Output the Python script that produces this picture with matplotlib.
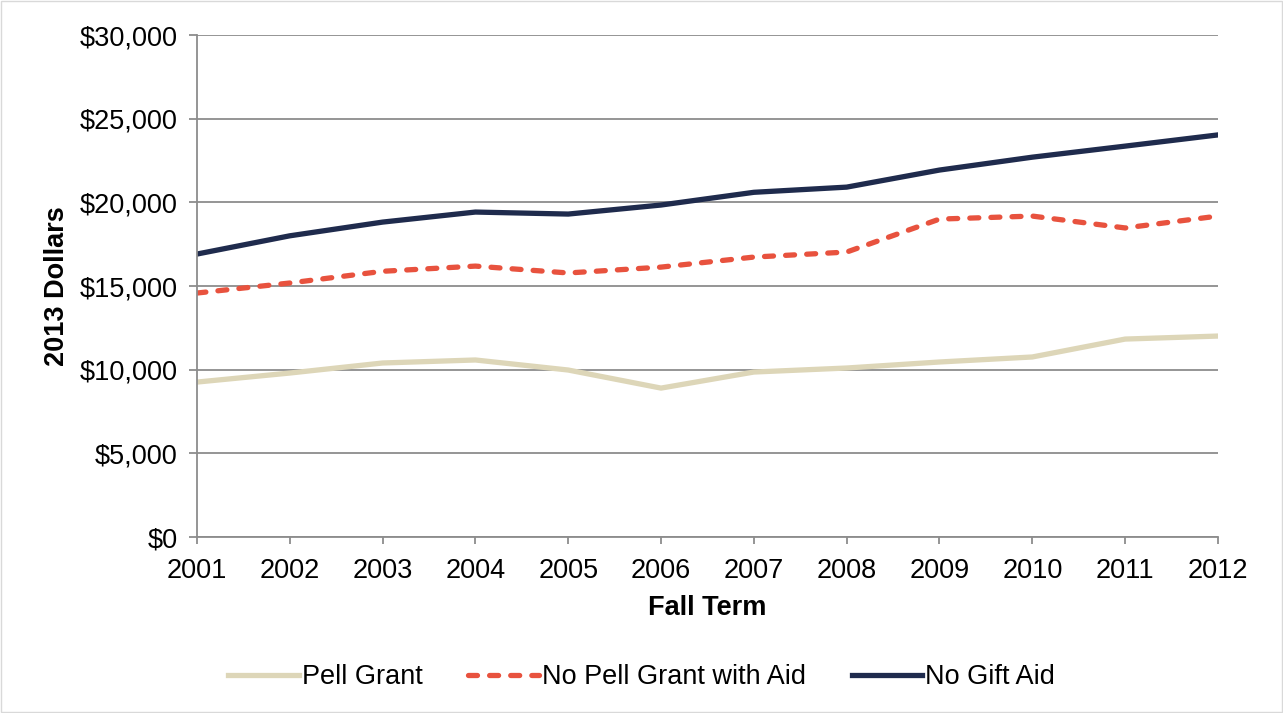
import matplotlib.pyplot as plt
from matplotlib.ticker import FuncFormatter

plt.rcParams['font.family'] = ['Liberation Sans', 'DejaVu Sans']

# Fall terms and average amounts in 2013 dollars
years = [2001, 2002, 2003, 2004, 2005, 2006, 2007, 2008, 2009, 2010, 2011, 2012]
pell_grant = [9260, 9800, 10400, 10580, 9980, 8900, 9860, 10100, 10460, 10760, 11830, 12010]
no_pell_with_aid = [14580, 15180, 15880, 16190, 15780, 16130, 16730, 17030, 19000, 19180, 18470, 19180]
no_gift_aid = [16910, 18000, 18820, 19420, 19300, 19840, 20600, 20910, 21930, 22700, 23360, 24030]

fs = 19.5

fig = plt.figure(figsize=(12.83, 7.13), dpi=100)
ax = fig.add_axes([0.1535, 0.2468, 0.7958, 0.7041])

ax.plot(years, pell_grant, color='#DDD6B8', lw=3.8, label='Pell Grant')
ax.plot(years, no_pell_with_aid, color='#E8523E', lw=3.8, dashes=(1.7, 2.3),
        dash_capstyle='round', label='No Pell Grant with Aid')
ax.plot(years, no_gift_aid, color='#1F2B4D', lw=3.8, label='No Gift Aid')

ax.set_xlim(2001, 2012)
ax.set_ylim(0, 30000)
ax.set_xticks(years)
ax.set_yticks(range(0, 30001, 5000))
ax.yaxis.set_major_formatter(FuncFormatter(lambda v, p: f'${v:,.0f}'))
ax.grid(axis='y', color='#8C8C8C', lw=1.3)
ax.set_axisbelow(True)

for s in ['top', 'right']:
    ax.spines[s].set_visible(False)
for s in ['left', 'bottom']:
    ax.spines[s].set_color('#8C8C8C')
    ax.spines[s].set_linewidth(1.3)
ax.tick_params(axis='y', length=6, width=1.3, color='#8C8C8C', labelsize=fs, pad=8)
ax.tick_params(axis='x', length=5, width=1.3, color='#8C8C8C', labelsize=fs, pad=10)

ax.set_xlabel('Fall Term', fontsize=fs, fontweight='bold', labelpad=8)
ax.set_ylabel('2013 Dollars', fontsize=fs, fontweight='bold', labelpad=7)

fig.legend(loc='center', bbox_to_anchor=(0.5, 0.05), ncol=3, frameon=False,
           fontsize=fs, handlelength=2.6, columnspacing=1.7, handletextpad=0.1)

# light frame around the whole figure
fig.patches.append(plt.Rectangle((0.001, 0.001), 0.998, 0.997, transform=fig.transFigure,
                                 fill=False, edgecolor='#D9D9D9', lw=1))

fig.savefig('out.png', dpi=100)
